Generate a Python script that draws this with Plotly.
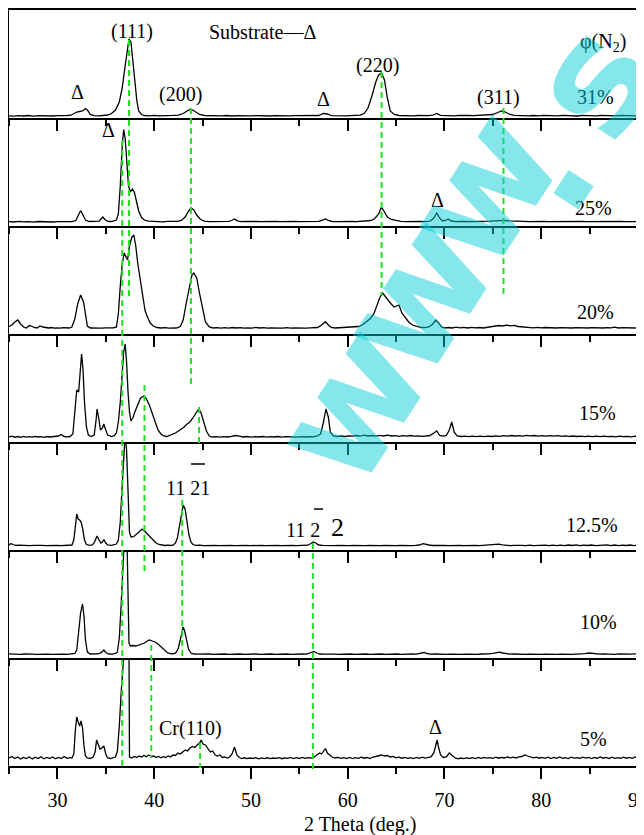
import plotly.graph_objects as go
from plotly.subplots import make_subplots

# ---------------- data: 2theta (deg) vs intensity (a.u., panel units) ----------------
scan_31 = [(25.0,2.2),(25.5,1.8),(26.0,2.4),(26.5,2.0),(27.0,2.5),(27.5,1.9),(28.0,2.3),(28.5,2.1),(29.0,2.6),(29.5,2.0),
 (30.0,2.4),(30.5,2.2),(31.0,2.5),(31.4,2.8),(31.7,4.5),(32.0,6.0),(32.3,6.5),(32.6,7.0),(32.9,9.5),(33.1,8.0),(33.4,3.5),
 (33.8,2.4),(34.3,2.2),(34.8,2.6),(35.2,3.0),(35.6,4.5),(36.0,8),(36.4,16),(36.7,30),(37.0,52),(37.2,68),(37.4,79),(37.6,76),
 (37.8,60),(38.0,38),(38.2,18),(38.4,7),(38.7,3.5),(39.0,2.5),(39.5,2.2),(40.0,2.7),(40.5,2.1),(41.0,2.5),(41.5,2.3),(42.0,2.6),
 (42.5,2.9),(43.0,4.5),(43.4,7.0),(43.7,8.5),(44.0,8.0),(44.3,6.0),(44.7,3.5),(45.2,2.5),(45.8,2.3),(46.5,2.6),(47.0,2.2),
 (47.5,2.5),(48.0,2.0),(48.5,2.4),(49.0,2.2),(49.5,2.6),(50.0,2.1),(50.5,2.4),(51.0,2.2),(51.5,2.5),(52.0,2.0),(52.5,2.4),
 (53.0,2.2),(53.5,2.6),(54.0,2.1),(54.5,2.4),(55.0,2.3),(55.5,2.5),(56.0,2.1),(56.5,2.4),(57.0,2.5),(57.5,4.5),(57.9,4.0),
 (58.3,2.4),(58.8,2.2),(59.3,2.5),(59.8,2.1),(60.3,2.4),(60.8,2.6),(61.3,2.8),(61.7,4.5),(62.1,10),(62.5,22),(62.9,36),
 (63.2,43),(63.5,45),(63.8,38),(64.1,20),(64.4,7),(64.8,3.5),(65.3,2.5),(65.8,2.3),(66.3,2.6),(66.8,2.2),(67.3,2.5),(67.8,2.1),
 (68.3,2.4),(68.8,2.9),(69.2,4.5),(69.6,2.6),(70.0,2.3),(70.5,2.5),(71.0,2.2),(71.5,2.6),(72.0,2.2),(72.5,2.5),(73.0,2.3),
 (73.5,2.6),(74.0,2.2),(74.5,2.8),(75.0,3.5),(75.5,5.5),(75.9,7.0),(76.3,6.0),(76.7,3.8),(77.2,2.6),(77.7,2.3),(78.2,2.6),
 (78.7,2.2),(79.2,2.5),(79.7,2.1),(80.2,2.6),(80.7,2.3),(81.2,2.5),(81.7,2.1),(82.2,2.7),(82.7,2.3),(83.2,2.5),(83.7,2.0),
 (84.2,2.6),(84.7,2.3),(85.2,2.4),(85.7,2.1),(86.2,2.6),(86.7,2.2),(87.2,2.5),(87.7,2.1),(88.2,2.6),(88.7,2.3),(89.2,2.5),
 (89.7,2.2),(90.0,2.4)]

scan_25 = [(25.0,4.5),(25.5,4.0),(26.0,4.6),(26.5,4.1),(27.0,4.4),(27.5,3.9),(28.0,4.5),(28.5,4.2),(29.0,4.6),(29.5,4.0),
 (30.0,4.4),(30.5,4.2),(31.0,4.5),(31.5,4.3),(31.9,5.5),(32.2,11),(32.4,15.3),(32.6,12),(32.9,6),(33.3,4.5),(33.8,4.3),
 (34.3,4.8),(34.5,7),(34.7,9),(34.9,6.5),(35.2,4.6),(35.6,4.5),(35.9,5),(36.1,6),(36.3,12),(36.5,40),(36.7,80),(36.85,96.5),
 (37.0,88),(37.15,62),(37.35,40),(37.55,34),(37.75,37),(37.95,34),(38.15,26),(38.4,15),(38.7,8.5),(39.0,6),(39.4,4.8),
 (39.9,4.4),(40.4,4.7),(40.9,4.2),(41.4,4.6),(41.9,4.3),(42.4,4.7),(42.8,5.5),(43.2,9),(43.5,14),(43.8,18),(44.1,16),
 (44.4,11),(44.8,6.5),(45.2,4.8),(45.7,4.4),(46.2,4.6),(46.7,4.2),(47.2,4.5),(47.7,4.6),(48.0,5.5),(48.3,7),(48.6,5.2),
 (49.0,4.4),(49.5,4.6),(50.0,4.2),(50.5,4.5),(51.0,4.3),(51.5,4.6),(52.0,4.2),(52.5,4.5),(53.0,4.3),(53.5,4.6),(54.0,4.2),
 (54.5,4.5),(55.0,4.4),(55.5,4.6),(56.0,4.2),(56.5,4.5),(57.0,4.6),(57.4,5.8),(57.7,7),(58.0,5.5),(58.4,4.5),(58.9,4.3),
 (59.4,4.6),(59.9,4.2),(60.4,4.5),(60.9,4.3),(61.4,4.6),(61.9,4.8),(62.4,5.5),(62.8,7.5),(63.2,12),(63.5,19),(63.8,14),
 (64.1,9),(64.5,6.5),(65.0,5.2),(65.5,4.6),(66.0,4.4),(66.5,4.6),(67.0,4.3),(67.5,4.5),(68.0,4.4),(68.5,4.8),(68.9,8),
 (69.2,13),(69.5,8),(69.8,5),(70.1,5.5),(70.4,7),(70.7,5),(71.2,4.4),(71.7,4.6),(72.2,4.3),(72.7,4.5),(73.2,4.4),(73.7,4.6),
 (74.2,4.5),(74.7,4.8),(75.2,5.2),(75.7,5.5),(76.2,5.6),(76.7,5.2),(77.2,4.8),(77.7,4.5),(78.2,4.7),(78.7,4.4),(79.2,4.6),
 (79.7,4.3),(80.2,4.6),(80.7,4.4),(81.2,4.5),(81.7,4.2),(82.2,4.6),(82.7,4.4),(83.2,4.5),(83.7,4.3),(84.2,4.6),(84.7,4.4),
 (85.2,4.5),(85.7,4.2),(86.2,4.6),(86.7,4.4),(87.2,4.5),(87.7,4.3),(88.2,4.6),(88.7,4.4),(89.2,4.5),(89.7,4.3),(90.0,4.4)]

scan_20 = [(25.0,7.5),(25.3,9),(25.6,12),(25.9,14),(26.2,10),(26.5,7),(26.8,6),(27.1,8.5),(27.3,8),(27.6,6.5),(27.9,6),
 (28.2,8),(28.5,7),(28.8,6.2),(29.1,6),(29.4,6.5),(29.7,5.8),(30.0,6.2),(30.3,5.8),(30.6,6.3),(30.9,5.9),(31.2,6),(31.5,7),
 (31.8,15),(32.1,30),(32.4,39),(32.7,32),(32.9,18),(33.1,8),(33.4,6),(33.8,5.8),(34.2,6.3),(34.6,5.9),(35.0,6.1),(35.4,5.8),
 (35.8,6.2),(36.1,7),(36.3,20),(36.5,48),(36.7,70),(36.9,81),(37.1,76),(37.25,74),(37.45,88),(37.7,97),(37.9,99),(38.1,88),
 (38.3,71),(38.55,55),(38.8,36),(39.05,24),(39.3,17),(39.6,11),(39.9,8),(40.3,6.5),(40.7,6),(41.1,6.3),(41.5,5.8),(41.9,6.1),
 (42.3,6),(42.7,7.5),(43.0,14),(43.3,30),(43.6,46),(43.9,59),(44.1,61),(44.4,56),(44.7,40),(45.0,24),(45.3,12),(45.7,7),
 (46.1,6),(46.5,6.4),(46.9,5.9),(47.3,6.3),(47.7,5.8),(48.1,6.5),(48.5,6),(48.9,6.4),(49.3,5.8),(49.7,6.2),(50.1,5.9),
 (50.5,6.6),(50.9,6),(51.3,6.3),(51.7,5.8),(52.1,6.2),(52.5,6.0),(52.9,6.5),(53.3,5.9),(53.7,6.3),(54.1,5.8),(54.5,6.2),
 (54.9,6),(55.3,6.4),(55.7,5.9),(56.1,6.2),(56.5,6),(56.9,6.5),(57.3,9),(57.7,12.3),(58.0,9),(58.3,6.5),(58.7,6),(59.1,6.3),
 (59.5,5.9),(59.9,6.2),(60.3,6.5),(60.7,7),(61.1,7.5),(61.5,9),(61.9,12),(62.3,15),(62.7,20),(63.0,29),(63.3,36),(63.6,41),
 (63.9,37),(64.2,33),(64.5,30),(64.8,27),(65.1,28),(65.3,29),(65.6,21),(65.9,17),(66.3,12),(66.7,9),(67.2,7.3),(67.6,6.5),
 (68.0,6.3),(68.4,7),(68.8,10),(69.1,14),(69.4,11),(69.7,7),(70.0,6.2),(70.4,6.5),(70.8,6),(71.2,6.8),(71.6,6.2),(72.0,6.7),
 (72.4,6),(72.8,6.6),(73.2,6.1),(73.6,6.5),(74.0,6),(74.4,6.5),(74.8,7.5),(75.2,8),(75.6,8.5),(76.0,8),(76.4,8.8),(76.8,8.2),
 (77.2,8.6),(77.6,7.5),(78.0,7.2),(78.4,6.6),(78.8,6.9),(79.2,6.2),(79.6,6.6),(80.0,6.1),(80.4,6.5),(80.8,6.2),(81.2,6.6),
 (81.6,6),(82.0,6.4),(82.4,6.1),(82.8,6.5),(83.2,6),(83.6,6.3),(84.0,6.1),(84.4,6.6),(84.8,6),(85.2,6.4),(85.6,6.1),(86.0,6.5),
 (86.4,6),(86.8,6.3),(87.2,6.1),(87.6,6.8),(88.0,6),(88.4,6.4),(88.8,6.1),(89.2,6.5),(89.6,6.0),(90.0,6.3)]

scan_15 = [(25.0,5),(25.3,5.8),(25.6,4.8),(25.9,5.5),(26.2,4.7),(26.5,5.6),(26.8,4.9),(27.1,5.4),(27.4,4.8),(27.7,5.6),
 (28.0,5),(28.3,5.3),(28.6,4.7),(28.9,5.5),(29.2,5),(29.5,5.3),(29.8,5.5),(30.1,6),(30.4,7.5),(30.7,5.5),(31.0,5.2),(31.3,5.5),
 (31.6,8),(31.8,30),(32.0,52),(32.2,50),(32.35,70),(32.5,88),(32.65,72),(32.8,40),(33.0,15),(33.2,7),(33.5,5.5),(33.8,7),
 (34.0,22),(34.1,33),(34.25,25),(34.45,12),(34.65,14),(34.8,18),(35.0,12),(35.2,7),(35.6,5.5),(35.9,6.5),(36.1,9),(36.3,20),
 (36.5,40),(36.7,70),(36.85,90),(37.0,98),(37.15,80),(37.3,50),(37.45,30),(37.6,21),(37.8,24),(38.0,30),(38.3,38),(38.6,44),
 (38.9,46),(39.2,43),(39.5,37),(39.8,29),(40.1,20),(40.4,12),(40.7,8),(41.0,6),(41.3,5.5),(41.6,6.5),(41.9,8),(42.2,9),
 (42.5,11),(42.8,13),(43.1,15),(43.4,18),(43.7,20),(44.0,24),(44.3,28),(44.6,33),(44.85,29),(45.1,20),(45.4,11),(45.7,6),
 (46.0,5),(46.4,5.3),(46.8,4.8),(47.2,5.4),(47.6,5),(48.0,5.6),(48.4,6.5),(48.8,5.8),(49.2,5),(49.6,5.5),(50.0,4.8),(50.4,5.4),
 (50.8,5),(51.2,5.5),(51.6,4.9),(52.0,5.3),(52.4,5),(52.8,5.5),(53.2,4.9),(53.6,5.4),(54.0,5),(54.4,5.3),(54.8,4.9),(55.2,5.4),
 (55.6,5),(56.0,5.4),(56.4,5.2),(56.8,5.8),(57.2,8),(57.5,20),(57.75,33),(58.0,25),(58.2,10),(58.5,6),(58.9,5.5),(59.3,6),
 (59.7,5.5),(60.1,6.2),(60.5,5.8),(60.9,6.5),(61.3,5.9),(61.7,6.8),(62.1,6),(62.5,6.5),(62.9,5.8),(63.3,6.6),(63.7,6.0),
 (64.1,6.9),(64.5,6),(64.9,6.4),(65.3,5.7),(65.7,6.3),(66.1,5.8),(66.5,6.5),(66.9,5.9),(67.3,6.2),(67.7,5.6),(68.1,6),(68.5,6.5),
 (68.9,9),(69.2,11),(69.5,6.5),(69.9,5.8),(70.2,6.5),(70.5,12),(70.75,20),(71.0,10),(71.3,6),(71.7,5.5),(72.1,5.9),(72.5,5.4),
 (72.9,5.8),(73.3,5.3),(73.7,5.9),(74.1,5.4),(74.5,5.8),(74.9,5.5),(75.3,6.2),(75.7,5.7),(76.1,6.3),(76.5,5.8),(76.9,6.5),
 (77.3,6),(77.7,6.4),(78.1,5.8),(78.5,6.6),(78.9,6.1),(79.3,6.5),(79.7,5.9),(80.1,6.3),(80.5,5.8),(80.9,6.4),(81.3,5.9),
 (81.7,6.3),(82.1,5.7),(82.5,6.1),(82.9,5.6),(83.3,6.0),(83.7,5.5),(84.1,5.9),(84.5,5.4),(84.9,5.8),(85.3,5.3),(85.7,5.8),
 (86.1,5.4),(86.5,5.9),(86.9,5.3),(87.3,5.7),(87.7,5.2),(88.1,5.8),(88.5,5.3),(88.9,5.7),(89.3,5.2),(89.7,5.9),(90.0,5.5)]

scan_12_5 = [(25.0,5),(25.2,6.5),(25.4,5.5),(25.7,4.6),(26.0,4.9),(26.4,4.5),(26.8,4.8),(27.2,4.4),(27.6,4.7),(28.0,4.3),
 (28.4,4.6),(28.8,4.4),(29.2,4.7),(29.6,4.3),(30.0,4.6),(30.4,4.4),(30.8,4.7),(31.2,4.5),(31.5,5),(31.7,10),(31.85,25),
 (32.0,36),(32.15,31),(32.3,30),(32.45,28),(32.6,22),(32.8,10),(33.0,5.5),(33.3,4.6),(33.6,5),(33.8,7),(34.0,12),(34.1,14),
 (34.3,10),(34.5,7),(34.65,8),(34.8,10.5),(35.0,7),(35.2,5),(35.6,4.6),(35.9,5),(36.1,6),(36.3,10),(36.5,28),(36.7,65),
 (36.85,100),(37.0,115),(37.15,100),(37.3,45),(37.45,18),(37.6,13),(37.9,13.5),(38.2,16),(38.5,19),(38.75,21),(39.0,19),
 (39.3,16),(39.6,12),(39.9,9),(40.2,7),(40.5,5.5),(40.8,4.8),(41.1,4.5),(41.4,4.8),(41.7,4.5),(42.0,5),(42.2,7),(42.4,12),
 (42.6,22),(42.8,36),(43.0,45),(43.2,41),(43.4,28),(43.6,15),(43.8,8),(44.0,5.5),(44.3,4.6),(44.7,4.9),(45.1,4.4),(45.5,4.7),
 (45.9,4.3),(46.3,4.6),(46.7,4.4),(47.1,4.7),(47.5,4.3),(47.9,4.6),(48.3,4.4),(48.7,4.7),(49.1,4.3),(49.5,4.6),(49.9,4.4),
 (50.3,4.7),(50.7,4.3),(51.1,4.6),(51.5,4.4),(51.9,4.7),(52.3,4.3),(52.7,4.6),(53.1,4.4),(53.5,4.7),(53.9,4.3),(54.3,4.6),
 (54.7,4.4),(55.1,4.7),(55.5,4.4),(55.9,4.8),(56.2,6.5),(56.45,8),(56.7,7),(57.0,5),(57.4,4.6),(57.8,4.4),(58.2,4.7),(58.6,4.3),
 (59.0,4.6),(59.4,4.4),(59.8,4.7),(60.2,4.3),(60.6,4.6),(61.0,4.4),(61.4,4.7),(61.8,4.3),(62.2,4.6),(62.6,4.4),(63.0,4.7),
 (63.4,4.3),(63.8,4.6),(64.2,4.4),(64.6,4.7),(65.0,4.3),(65.4,4.6),(65.8,4.4),(66.2,4.7),(66.6,4.4),(67.0,4.6),(67.4,5),
 (67.8,6.3),(68.1,6),(68.4,5),(68.8,4.5),(69.2,4.7),(69.6,4.3),(70.0,4.6),(70.4,4.4),(70.8,4.7),(71.2,4.3),(71.6,4.6),(72.0,4.4),
 (72.4,4.7),(72.8,4.3),(73.2,4.6),(73.6,4.4),(74.0,4.7),(74.4,4.4),(74.8,4.8),(75.2,5.3),(75.6,5.8),(76.0,5.2),(76.4,4.7),
 (76.8,4.4),(77.2,4.7),(77.6,4.3),(78.0,4.6),(78.4,4.4),(78.8,4.9),(79.2,4.4),(79.6,4.7),(80.0,4.3),(80.4,4.8),(80.8,4.4),
 (81.2,4.9),(81.6,4.3),(82.0,4.8),(82.4,4.4),(82.8,5.0),(83.2,4.5),(83.6,5.1),(84.0,4.4),(84.4,4.9),(84.8,4.5),(85.2,5.0),
 (85.6,4.4),(86.0,4.8),(86.4,4.5),(86.8,5.1),(87.2,4.4),(87.6,5.0),(88.0,4.4),(88.4,4.9),(88.8,4.5),(89.2,5.0),(89.6,4.4),(90.0,4.8)]

scan_10 = [(25.0,4.2),(25.4,3.8),(25.8,4.1),(26.2,3.7),(26.6,4.0),(27.0,3.6),(27.4,3.9),(27.8,3.7),(28.2,4.0),(28.6,3.6),
 (29.0,3.9),(29.4,3.7),(29.8,4.0),(30.2,3.6),(30.6,3.9),(31.0,3.7),(31.4,4.0),(31.8,4.5),(32.0,8),(32.2,25),(32.4,45),(32.6,54),
 (32.75,42),(32.9,18),(33.1,6),(33.4,4),(33.8,3.8),(34.2,4.2),(34.5,5),(34.8,8),(35.0,5.5),(35.3,4),(35.7,3.9),(36.0,4.5),
 (36.2,6),(36.4,20),(36.6,55),(36.75,95),(36.9,115),(37.2,115),(37.3,60),(37.4,15),(37.55,12),(37.8,12.5),(38.1,12),(38.4,13),
 (38.7,14),(39.0,15),(39.3,17),(39.5,18),(39.8,17),(40.1,16),(40.4,14),(40.8,10),(41.1,7),(41.4,5),(41.8,4.2),(42.1,4.5),
 (42.3,6),(42.5,10),(42.7,18),(42.85,26),(43.0,31),(43.15,27),(43.35,17),(43.55,9),(43.8,5),(44.1,4),(44.5,3.8),(44.9,4.1),
 (45.3,3.7),(45.7,4.0),(46.1,3.6),(46.5,3.9),(46.9,3.7),(47.3,4.0),(47.7,3.6),(48.1,3.9),(48.5,3.7),(48.9,4.0),(49.3,3.6),
 (49.7,3.9),(50.1,3.7),(50.5,4.0),(50.9,3.6),(51.3,3.9),(51.7,3.7),(52.1,4.0),(52.5,3.6),(52.9,3.9),(53.3,3.7),(53.7,4.0),
 (54.1,3.6),(54.5,3.9),(54.9,3.7),(55.3,4.0),(55.7,3.8),(56.0,4.5),(56.3,6),(56.5,6.5),(56.8,5),(57.1,4),(57.5,3.8),(57.9,4.0),
 (58.3,3.7),(58.7,3.9),(59.1,3.6),(59.5,3.9),(59.9,3.7),(60.3,4.0),(60.7,3.6),(61.1,3.9),(61.5,3.7),(61.9,4.0),(62.3,3.6),
 (62.7,3.9),(63.1,3.7),(63.5,4.0),(63.9,3.6),(64.3,3.9),(64.7,3.7),(65.1,4.0),(65.5,3.6),(65.9,3.9),(66.3,3.7),(66.7,4.0),
 (67.1,3.8),(67.5,4.3),(67.9,5.5),(68.2,4.5),(68.6,3.8),(69.0,4.0),(69.4,3.7),(69.8,3.9),(70.2,3.6),(70.6,3.9),(71.0,3.7),
 (71.4,4.0),(71.8,3.6),(72.2,3.9),(72.6,3.7),(73.0,4.0),(73.4,3.7),(73.8,4.0),(74.2,3.8),(74.6,4.2),(75.0,4.6),(75.4,5.4),
 (75.7,5.8),(76.0,5.0),(76.4,4.2),(76.8,3.8),(77.2,4.0),(77.6,3.7),(78.0,3.9),(78.4,3.6),(78.8,3.9),(79.2,3.7),(79.6,4.0),
 (80.0,3.6),(80.4,3.9),(80.8,3.7),(81.2,4.0),(81.6,3.6),(82.0,3.9),(82.4,3.7),(82.8,4.0),(83.2,3.6),(83.6,3.9),(84.0,3.8),
 (84.5,4.4),(85.0,5),(85.5,4.3),(86.0,3.9),(86.4,4.2),(86.8,3.8),(87.2,4.1),(87.6,3.7),(88.0,4.1),(88.4,3.8),(88.8,4.2),
 (89.2,3.8),(89.6,4.2),(90.0,3.9)]

scan_5 = [(25.0,8),(25.3,9.5),(25.6,7.5),(25.9,9),(26.2,7),(26.5,8.5),(26.8,7.5),(27.1,9),(27.4,7),(27.7,8.8),(28.0,7.4),
 (28.3,9.2),(28.6,7.2),(28.9,8.5),(29.2,7.5),(29.5,9),(29.8,7.2),(30.1,8.6),(30.4,7.4),(30.7,9.5),(31.0,7.6),(31.3,8.4),
 (31.5,8),(31.7,12),(31.85,35),(32.0,49),(32.15,44),(32.3,40),(32.45,45),(32.6,38),(32.75,20),(32.9,10),(33.1,8),(33.4,7.5),
 (33.7,9),(33.9,14),(34.05,26),(34.2,22),(34.4,17),(34.6,18),(34.8,20),(35.0,12),(35.2,8),(35.5,7.5),(35.8,8.2),(36.0,9),
 (36.2,15),(36.4,40),(36.6,75),(36.8,110),(36.9,115),(37.4,115),(37.45,9),(37.7,8),(37.95,9.5),(38.2,8.5),(38.45,10),(38.7,9),
 (38.95,10.5),(39.2,9.2),(39.45,11),(39.7,9.5),(39.95,10),(40.2,8.5),(40.45,9.5),(40.7,8.2),(40.95,9.4),(41.2,8.5),(41.45,10),
 (41.7,9),(41.95,11),(42.2,10.5),(42.45,13),(42.7,12),(42.95,14.5),(43.2,16),(43.45,15),(43.7,18),(43.95,19.5),(44.2,18.5),
 (44.45,21),(44.7,23),(44.85,26),(45.05,22),(45.3,21),(45.55,17),(45.8,14),(46.05,15),(46.3,11),(46.55,10),(46.8,11),(47.05,8.5),
 (47.3,9),(47.55,8),(47.8,9),(48.05,12),(48.3,19),(48.55,11),(48.8,8.5),(49.05,7.5),(49.3,8.2),(49.6,7.3),(49.9,8),(50.2,7.5),
 (50.5,8.3),(50.8,7.2),(51.1,8.1),(51.4,7.4),(51.7,8.2),(52.0,7.3),(52.3,8),(52.6,7.6),(52.9,8.4),(53.2,7.3),(53.5,8.2),
 (53.8,7.6),(54.1,8.5),(54.4,7.4),(54.7,8.3),(55.0,7.5),(55.3,8.6),(55.6,7.6),(55.9,8.4),(56.2,7.8),(56.5,8.5),(56.8,11),
 (57.1,13),(57.3,12),(57.5,15),(57.7,17.5),(57.9,13),(58.1,11),(58.4,9),(58.7,8),(59.0,8.6),(59.3,7.6),(59.6,8.4),(59.9,7.5),
 (60.2,8.5),(60.5,7.4),(60.8,8.3),(61.1,7.6),(61.4,8.8),(61.7,7.8),(62.0,8.5),(62.3,7.5),(62.6,9),(62.9,9.5),(63.2,10.5),
 (63.5,11),(63.8,10),(64.1,10.5),(64.4,9),(64.7,9.6),(65.0,8.2),(65.3,8.8),(65.6,7.8),(65.9,8.6),(66.2,7.6),(66.5,8.4),
 (66.8,7.5),(67.1,8.5),(67.4,7.6),(67.7,8.8),(68.0,7.8),(68.3,8.5),(68.6,9),(68.9,13),(69.1,20),(69.25,26),(69.4,18),(69.6,11),
 (69.9,8.5),(70.2,9),(70.5,13),(70.8,10),(71.1,8),(71.4,7.2),(71.7,8),(72.0,7.3),(72.3,8.2),(72.6,7.5),(72.9,8.3),(73.2,7.4),
 (73.5,8.5),(73.8,7.6),(74.1,8.6),(74.4,7.8),(74.7,8.4),(75.0,7.6),(75.3,8.8),(75.6,7.8),(75.9,8.6),(76.2,8),(76.5,9),(76.8,8.2),
 (77.1,8.8),(77.4,8),(77.7,9.2),(78.0,9.5),(78.3,11),(78.6,10),(78.9,9.2),(79.2,8.2),(79.5,8.8),(79.8,7.8),(80.1,8.6),(80.4,7.6),
 (80.7,8.8),(81.0,7.5),(81.3,8.6),(81.6,7.7),(81.9,9),(82.2,7.6),(82.5,8.4),(82.8,7.5),(83.1,8.9),(83.4,7.8),(83.7,8.4),
 (84.0,7.6),(84.3,8.8),(84.6,7.9),(84.9,8.6),(85.2,7.5),(85.5,8.5),(85.8,7.7),(86.1,9),(86.4,7.8),(86.7,8.6),(87.0,7.5),
 (87.3,8.9),(87.6,7.7),(87.9,8.4),(88.2,7.6),(88.5,8.9),(88.8,7.8),(89.1,8.6),(89.4,7.6),(89.7,9),(90.0,8)]

scans = [scan_31, scan_25, scan_20, scan_15, scan_12_5, scan_10, scan_5]
n2_labels = ["31%", "25%", "20%", "15%", "12.5%", "10%", "5%"]

# reference (green dashed) line positions, 2theta in degrees
ref_2theta = [37.4, 36.7, 43.8, 44.64, 39.0, 39.7, 42.9, 56.4, 63.5, 76.1, 44.75]

x_ticks = [30, 40, 50, 60, 70, 80, 90]

# ---------------- layout helpers (page-pixel geometry) ----------------
# the page body has an 8px margin, so the figure is sized to fill the rest of the window
OFF = 8
W, H = 644 - OFF, 835 - OFF
PL, PR, PT, PB = 9, 638, 10, 766          # plot area in page pixels
L, R, T, B = PL - OFF, 644 - PR, PT - OFF, 835 - PB
PW, PH = PR - PL, PB - PT

def px(x):
    return (x - PL) / PW

def py(y):
    return (PB - y) / PH

# vertical extents of the dashed guide lines (page pixel rows), same order as ref_2theta
ref_extent_px = [(40, 298), (140, 770), (108, 387), (407, 447), (385, 572), (645, 758),
                 (500, 658), (543, 772), (72, 295), (108, 297), (743, 768)]

fig = make_subplots(rows=7, cols=1, shared_xaxes=True, vertical_spacing=0)
for i, s in enumerate(scans):
    xs = [p[0] for p in s]
    ys = [p[1] for p in s]
    fig.add_trace(go.Scatter(x=xs, y=ys, mode="lines", line=dict(color="black", width=1.3),
                             showlegend=False, hoverinfo="skip"), row=i + 1, col=1)
    fig.update_yaxes(range=[0, 108], showticklabels=False, ticks="", showgrid=False, zeroline=False,
                     showline=True, mirror=True, linecolor="black", linewidth=2, automargin=False,
                     row=i + 1, col=1)

fig.update_xaxes(range=[25, 90], tickvals=x_ticks, ticks="outside", ticklen=11, tickwidth=2, tickcolor="black",
                 minor=dict(ticks="outside", ticklen=6, tickwidth=2, tickcolor="black", dtick=5, tick0=0),
                 showline=True, mirror=False, linecolor="black", linewidth=2, showgrid=False, zeroline=False,
                 tickfont=dict(family="Liberation Serif", size=20, color="black"), ticklabelstandoff=4,
                 ticklabeloverflow="allow", automargin=False)
fig.update_xaxes(mirror=True, row=1, col=1)

shapes = []
for t, (y0, y1) in zip(ref_2theta, ref_extent_px):
    shapes.append(dict(type="line", xref="x", yref="paper", x0=t, x1=t, y0=py(y0), y1=py(y1),
                       line=dict(color="#22e022", width=2, dash="6px,4px")))
# overbars for Miller-Bravais indices
shapes.append(dict(type="line", xref="paper", yref="paper", x0=px(191), x1=px(205), y0=py(464), y1=py(464),
                   line=dict(color="black", width=1.5)))
shapes.append(dict(type="line", xref="paper", yref="paper", x0=px(314), x1=px(323), y0=py(509), y1=py(509),
                   line=dict(color="black", width=1.5)))

serif = "Liberation Serif"
texts = [
    ("(111)", 132, 32, 20), ("Substrate––Δ", 262, 32, 20), ("Δ", 77, 92, 20), ("(200)", 180, 94, 20),
    ("Δ", 323, 99, 20), ("(220)", 377, 65, 20), ("(311)", 498, 97, 20), ("φ(N<sub>2</sub>)", 603, 43, 20),
    ("Δ", 108, 130, 20), ("Δ", 437, 200, 20),
    ("11 21", 188, 488, 20), ("11 2", 303, 530, 20), ("2", 337, 527, 26),
    ("Cr(110)", 190, 728, 20), ("Δ", 435, 727, 20),
    ("2 Theta (deg.)", 360, 824, 20),
]
pct_pos = [(595, 97), (593, 208), (595, 312), (597, 413), (592, 525), (598, 622), (593, 739)]
for lab, (x, y) in zip(n2_labels, pct_pos):
    texts.append((lab, x, y, 20))

annotations = []
for t, x, y, s in texts:
    annotations.append(dict(text=t, x=px(x), y=py(y), xref="paper", yref="paper", showarrow=False,
                            xanchor="center", yanchor="middle", font=dict(family=serif, size=s, color="black")))

# watermark, letter by letter
wm_letters = [("w", 350, 405), ("w", 416, 296), ("w", 482, 188), (".", 540, 168), ("s", 592, 80)]
for ch, x, y in wm_letters:
    annotations.append(dict(text=ch, x=px(x), y=py(y), xref="paper", yref="paper", showarrow=False,
                            xanchor="center", yanchor="middle", textangle=-57,
                            font=dict(family="DejaVu Sans", size=158, color="rgba(0,205,215,0.48)", weight="bold")))

fig.update_layout(width=W, height=H, margin=dict(l=L, r=R, t=T, b=B, autoexpand=False), paper_bgcolor="white",
                  plot_bgcolor="white", shapes=shapes, annotations=annotations, showlegend=False)

fig.write_html("out.html")
